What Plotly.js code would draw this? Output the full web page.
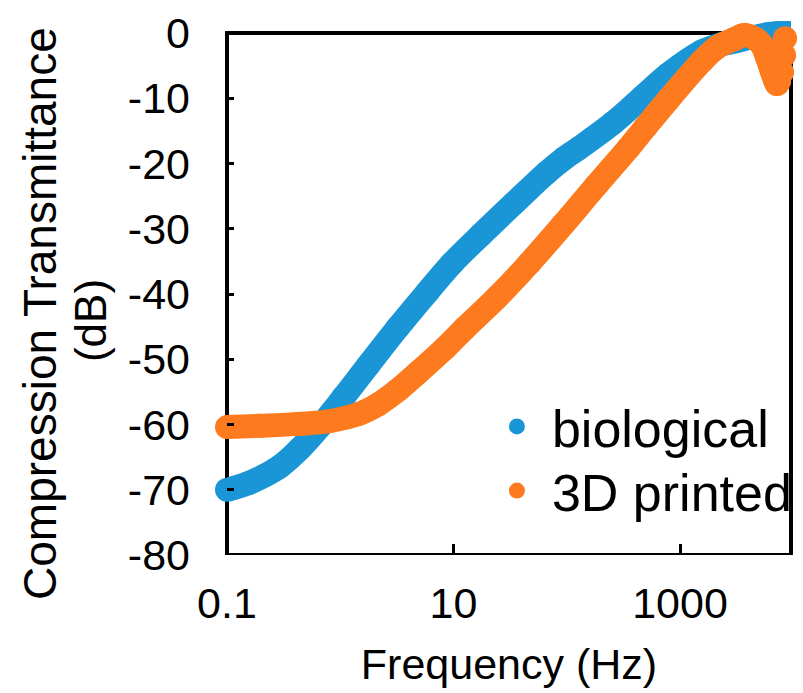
<!DOCTYPE html>
<html>
<head>
<meta charset="utf-8">
<script src="https://cdn.plot.ly/plotly-3.0.1.min.js"></script>
<style>html,body{margin:0;padding:0;background:#fff;}#chart{width:803px;height:693px;}</style>
</head>
<body>
<div id="chart"></div>
<script>
// ---- data ----
const freqBio = [0.1, 0.159, 0.29, 0.435, 0.676, 1.07, 1.77, 3.24, 5.94, 9.82, 17.3, 34.2, 66.4, 95, 129, 255, 467, 789, 1563, 2244, 3034, 4266, 5888, 7499, 9550];
const dbBio   = [-70.0, -68.9, -66.5, -63.8, -60.1, -55.8, -50.9, -45.1, -39.6, -35.2, -31.0, -26.1, -21.4, -19.2, -17.6, -13.8, -9.8, -6.3, -2.8, -1.8, -1.3, -0.7, -0.2, 0, 0];

const freq3D = [0.1, 0.194, 0.435, 0.794, 1.45, 2.17, 3.24, 4.9, 8.4, 12.5, 24.3, 47.1, 93.3, 181, 352, 497, 789, 1563, 2153, 3034, 3709, 4536, 5224, 5891, 6512, 7204, 7966, 8294, 8457];
const db3D   = [-60.4, -60.2, -59.9, -59.5, -58.4, -56.9, -54.7, -52.0, -48.3, -45.3, -40.5, -35.2, -29.3, -23.4, -17.6, -14.4, -10.2, -4.3, -2.1, -0.9, -0.3, -0.8, -1.7, -3.8, -6.0, -7.8, -6.0, -3.4, -0.8];

const seriesNames = ['biological', '3D printed'];
const seriesColors = ['#1a96d6', '#fd7a1e'];

const xTickVals = [0.1, 10, 1000];
const xTickText = ['0.1', '10', '1000'];
const yTickVals = [0, -10, -20, -30, -40, -50, -60, -70, -80];
const yTickText = ['0', '-10', '-20', '-30', '-40', '-50', '-60', '-70', '-80'];

const FONT = 'Liberation Sans, Arial, sans-serif';

function curve(x, y, color) {
  return {
    x: x, y: y, type: 'scatter', mode: 'lines+markers',
    line: {color: color, width: 24, shape: 'spline', smoothing: 1},
    marker: {color: color, size: 24},
    cliponaxis: false, showlegend: false, hoverinfo: 'skip'
  };
}
function legendItem(name, color, legendId) {
  return {
    x: [null], y: [null], type: 'scatter', mode: 'markers', name: name,
    marker: {color: color, size: 20}, showlegend: true, legend: legendId
  };
}

const data = [
  curve(freqBio, dbBio, seriesColors[0]),
  curve(freq3D, db3D, seriesColors[1]),
  legendItem(seriesNames[0], seriesColors[0], 'legend'),
  legendItem(seriesNames[1], seriesColors[1], 'legend2')
];

const legendCommon = {
  xanchor: 'left', yanchor: 'middle', bgcolor: 'rgba(0,0,0,0)', borderwidth: 0,
  font: {family: FONT, size: 52, color: '#000'}, itemwidth: 60
};

const layout = {
  width: 803, height: 693,
  margin: {l: 227, r: 6, t: 20, b: 138},
  paper_bgcolor: '#fff', plot_bgcolor: '#fff',
  font: {family: FONT, color: '#000'},
  xaxis: {
    type: 'log', range: [-1, 3.98],
    tickvals: xTickVals, ticktext: xTickText,
    ticks: 'inside', ticklen: 11, tickwidth: 3, tickcolor: '#000',
    showline: false, showgrid: false, zeroline: false,
    tickfont: {family: FONT, size: 43, color: '#000'},
    ticklabelstandoff: 19,
    title: {text: 'Frequency (Hz)', font: {family: FONT, size: 43, color: '#000'}, standoff: 22}
  },
  yaxis: {
    range: [-80, 2],
    tickvals: yTickVals, ticktext: yTickText,
    ticks: 'inside', ticklen: 7, tickwidth: 3, tickcolor: '#000',
    showline: false, showgrid: false, zeroline: false,
    tickfont: {family: FONT, size: 43, color: '#000'},
    ticklabelstandoff: 36
  },
  shapes: [{
    type: 'rect', xref: 'paper', yref: 'y', x0: 0, x1: 1, y0: -80, y1: 0,
    line: {color: '#000', width: 4}, fillcolor: 'rgba(0,0,0,0)', layer: 'below'
  }],
  annotations: [{
    text: 'Compression Transmittance', textangle: -90,
    xref: 'paper', yref: 'paper', x: -0.332, y: 0.452,
    xanchor: 'center', yanchor: 'middle', showarrow: false,
    font: {family: FONT, size: 46, color: '#000'}
  }, {
    text: '(dB)', textangle: -90,
    xref: 'paper', yref: 'paper', x: -0.243, y: 0.439,
    xanchor: 'center', yanchor: 'middle', showarrow: false,
    font: {family: FONT, size: 44, color: '#000'}
  }],
  legend: Object.assign({x: 0.452, y: 0.24}, legendCommon),
  legend2: Object.assign({x: 0.452, y: 0.12}, legendCommon)
};

Plotly.newPlot('chart', data, layout, {displayModeBar: false, staticPlot: true});
</script>
</body>
</html>
